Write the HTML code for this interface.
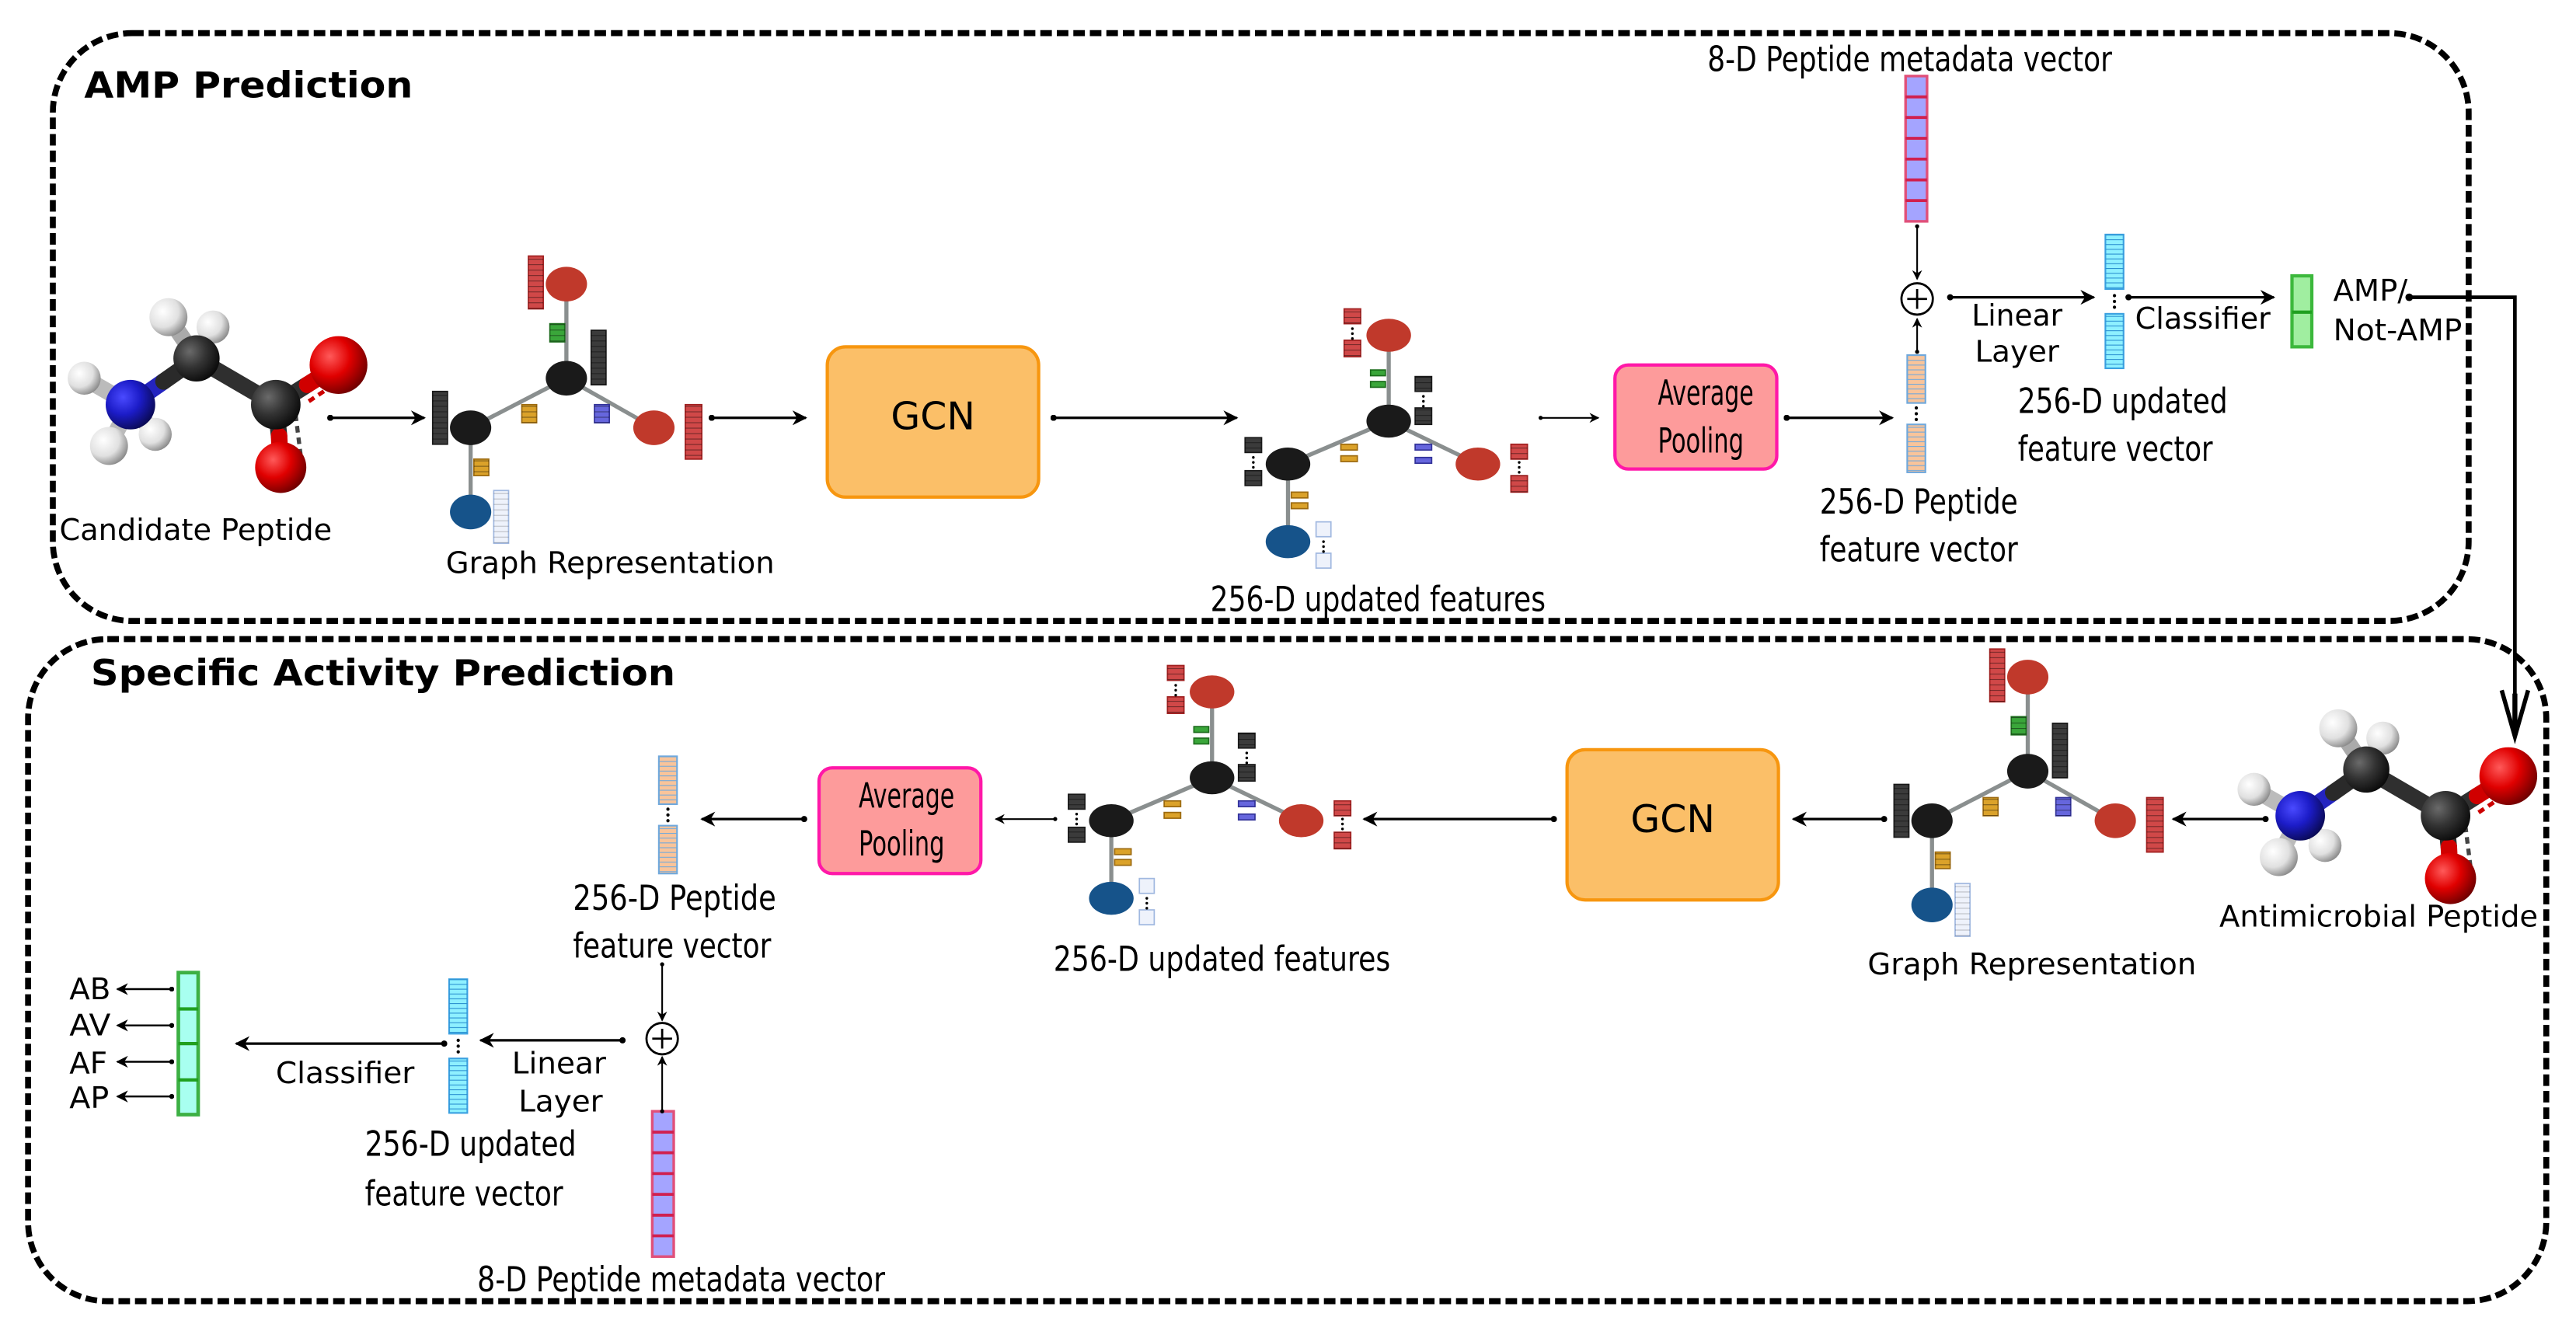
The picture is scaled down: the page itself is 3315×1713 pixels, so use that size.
<!DOCTYPE html>
<html><head><meta charset="utf-8"><style>
html,body{margin:0;padding:0;background:#fff;}
svg{display:block;}
text{font-family:"DejaVu Sans","Liberation Sans",sans-serif;fill:#000;}
</style></head><body>
<svg width="3315" height="1713" viewBox="0 0 1560 806" xmlns="http://www.w3.org/2000/svg">
<defs>
<pattern id="hl" patternUnits="userSpaceOnUse" width="20" height="3.3"><path d="M0 0.2H20" stroke="#000" stroke-opacity="0.45" stroke-width="0.6"/></pattern>
<pattern id="hlc" patternUnits="userSpaceOnUse" width="20" height="2.9"><path d="M0 0.2H20" stroke="#2a8fd0" stroke-width="0.6"/></pattern>
<pattern id="hlo" patternUnits="userSpaceOnUse" width="20" height="2.9"><path d="M0 0.2H20" stroke="#6fa8dc" stroke-width="0.6"/></pattern>
<marker id="ah" viewBox="0 0 10 10" refX="9" refY="5" markerWidth="6" markerHeight="6" orient="auto"><path d="M0 0L10 5L0 10L3 5Z" fill="#000"/></marker>
<marker id="dt" viewBox="0 0 10 10" refX="5" refY="5" markerWidth="2.5" markerHeight="2.5"><circle cx="5" cy="5" r="5" fill="#000"/></marker>
<radialGradient id="gR" cx="0.35" cy="0.35" r="0.7"><stop offset="0" stop-color="#ff5a5a"/><stop offset="0.5" stop-color="#e00000"/><stop offset="1" stop-color="#700000"/></radialGradient>
<radialGradient id="gB" cx="0.35" cy="0.35" r="0.7"><stop offset="0" stop-color="#4a4aff"/><stop offset="0.5" stop-color="#1c1cc8"/><stop offset="1" stop-color="#0a0a55"/></radialGradient>
<radialGradient id="gW" cx="0.35" cy="0.35" r="0.7"><stop offset="0" stop-color="#ffffff"/><stop offset="0.6" stop-color="#e0e0e0"/><stop offset="1" stop-color="#8a8a8a"/></radialGradient>
<radialGradient id="gC" cx="0.35" cy="0.35" r="0.7"><stop offset="0" stop-color="#6a6a6a"/><stop offset="0.5" stop-color="#333"/><stop offset="1" stop-color="#0a0a0a"/></radialGradient>

<g id="mol">
 <g stroke-linecap="round" stroke-width="10">
  <line x1="23" y1="-53" x2="40" y2="-28" stroke="#aaa"/>
  <line x1="50" y1="-47" x2="40" y2="-28" stroke="#aaa"/>
  <line x1="-28" y1="-16" x2="0" y2="0" stroke="#bbb"/>
  <line x1="-13" y1="25" x2="0" y2="0" stroke="#bbb"/>
  <line x1="15" y1="18" x2="0" y2="0" stroke="#999"/>
  <line x1="0" y1="0" x2="20" y2="-14" stroke="#2424c0"/>
  <line x1="20" y1="-14" x2="40" y2="-28" stroke="#2a2a2a"/>
  <line x1="40" y1="-28" x2="88" y2="0" stroke="#2f2f2f"/>
  <line x1="88" y1="0" x2="107" y2="-12" stroke="#2f2f2f"/>
  <line x1="107" y1="-12" x2="126" y2="-24" stroke="#d00000"/>
  <line x1="88" y1="0" x2="90" y2="19" stroke="#2f2f2f"/>
  <line x1="90" y1="19" x2="91" y2="38" stroke="#d00000"/>
 </g>
 <line x1="100" y1="6" x2="103" y2="30" stroke="#444" stroke-width="2.5" stroke-dasharray="4 3"/>
 <line x1="108" y1="-2" x2="120" y2="-10" stroke="#c00" stroke-width="2.5" stroke-dasharray="4 3"/>
 <circle cx="50" cy="-47" r="10" fill="url(#gW)"/>
 <circle cx="15" cy="18" r="10" fill="url(#gW)"/>
 <circle cx="23" cy="-53" r="11.5" fill="url(#gW)"/>
 <circle cx="-28" cy="-16" r="10" fill="url(#gW)"/>
 <circle cx="0" cy="0" r="15" fill="url(#gB)"/>
 <circle cx="-13" cy="25" r="11.5" fill="url(#gW)"/>
 <circle cx="40" cy="-28" r="14" fill="url(#gC)"/>
 <circle cx="88" cy="0" r="15" fill="url(#gC)"/>
 <circle cx="91" cy="38" r="15.5" fill="url(#gR)"/>
 <circle cx="126" cy="-24" r="17.5" fill="url(#gR)"/>
</g>

<g id="g1">
 <g stroke="#8a8f8f" stroke-width="2.5">
  <line x1="0" y1="0" x2="58" y2="-30"/><line x1="58" y1="-30" x2="58" y2="-87"/>
  <line x1="58" y1="-30" x2="111" y2="0"/><line x1="0" y1="0" x2="0" y2="51"/>
 </g>
 <ellipse cx="0" cy="0" rx="12.5" ry="10.5" fill="#1a1a1a"/>
 <ellipse cx="58" cy="-30" rx="12.5" ry="10.5" fill="#1a1a1a"/>
 <ellipse cx="58" cy="-87" rx="12.5" ry="10.5" fill="#c0392b"/>
 <ellipse cx="111" cy="0" rx="12.5" ry="10.5" fill="#c0392b"/>
 <ellipse cx="0" cy="51" rx="12.5" ry="10.5" fill="#16538a"/>
 <g stroke-width="0.8">
  <rect x="-23" y="-22" width="9" height="32" fill="#3b3b3b" stroke="#1a1a1a"/>
  <rect x="73" y="-59" width="9" height="33" fill="#3b3b3b" stroke="#1a1a1a"/>
  <rect x="35" y="-104" width="9" height="32" fill="#d04848" stroke="#a02020"/>
  <rect x="130" y="-14" width="10" height="33" fill="#d04848" stroke="#a02020"/>
  <rect x="14" y="38" width="9" height="32" fill="#eef2fb" stroke="#a0b8e0"/>
  <rect x="48" y="-63" width="9" height="11" fill="#3aa63a" stroke="#1d6d1d"/>
  <rect x="31" y="-14" width="9" height="11" fill="#dba22a" stroke="#9c6a10"/>
  <rect x="75" y="-14" width="9" height="11" fill="#6666dd" stroke="#333399"/>
  <rect x="2" y="19" width="9" height="10" fill="#dba22a" stroke="#9c6a10"/>
 </g>
 <g fill="url(#hl)">
  <rect x="-23" y="-22" width="9" height="32"/><rect x="73" y="-59" width="9" height="33"/>
  <rect x="35" y="-104" width="9" height="32"/><rect x="130" y="-14" width="10" height="33"/>
  <rect x="14" y="38" width="9" height="32" fill-opacity="0.5"/><rect x="48" y="-63" width="9" height="11"/>
  <rect x="31" y="-14" width="9" height="11"/><rect x="75" y="-14" width="9" height="11"/>
  <rect x="2" y="19" width="9" height="10"/>
 </g>
</g>

<g id="g2">
 <g stroke="#8a8f8f" stroke-width="2.5">
  <line x1="0" y1="0" x2="61" y2="-26"/><line x1="61" y1="-26" x2="61" y2="-78"/>
  <line x1="61" y1="-26" x2="115" y2="0"/><line x1="0" y1="0" x2="0" y2="47"/>
 </g>
 <ellipse cx="0" cy="0" rx="13.5" ry="10" fill="#1a1a1a"/>
 <ellipse cx="61" cy="-26" rx="13.5" ry="10" fill="#1a1a1a"/>
 <ellipse cx="61" cy="-78" rx="13.5" ry="10" fill="#c0392b"/>
 <ellipse cx="115" cy="0" rx="13.5" ry="10" fill="#c0392b"/>
 <ellipse cx="0" cy="47" rx="13.5" ry="10" fill="#16538a"/>
 <g stroke-width="0.8">
  <rect x="-26" y="-16" width="10" height="9" fill="#3b3b3b" stroke="#1a1a1a"/>
  <rect x="-26" y="4" width="10" height="9" fill="#3b3b3b" stroke="#1a1a1a"/>
  <rect x="77" y="-53" width="10" height="9" fill="#3b3b3b" stroke="#1a1a1a"/>
  <rect x="77" y="-34" width="10" height="10" fill="#3b3b3b" stroke="#1a1a1a"/>
  <rect x="34" y="-94" width="10" height="9" fill="#d04848" stroke="#a02020"/>
  <rect x="34" y="-75" width="10" height="10" fill="#d04848" stroke="#a02020"/>
  <rect x="135" y="-12" width="10" height="9" fill="#d04848" stroke="#a02020"/>
  <rect x="135" y="7" width="10" height="10" fill="#d04848" stroke="#a02020"/>
  <rect x="17" y="35" width="9" height="9" fill="#eef2fb" stroke="#a0b8e0"/>
  <rect x="17" y="54" width="9" height="9" fill="#eef2fb" stroke="#a0b8e0"/>
  <rect x="50" y="-57" width="9" height="3.5" fill="#3aa63a" stroke="#1d6d1d"/>
  <rect x="50" y="-50" width="9" height="3.5" fill="#3aa63a" stroke="#1d6d1d"/>
  <rect x="32" y="-12" width="10" height="3.5" fill="#dba22a" stroke="#9c6a10"/>
  <rect x="32" y="-5" width="10" height="3.5" fill="#dba22a" stroke="#9c6a10"/>
  <rect x="77" y="-12" width="10" height="3.5" fill="#6666dd" stroke="#333399"/>
  <rect x="77" y="-4" width="10" height="3.5" fill="#6666dd" stroke="#333399"/>
  <rect x="2" y="17" width="10" height="3.5" fill="#dba22a" stroke="#9c6a10"/>
  <rect x="2" y="23.5" width="10" height="3.5" fill="#dba22a" stroke="#9c6a10"/>
 </g>
 <g fill="url(#hl)">
  <rect x="-26" y="-16" width="10" height="9"/><rect x="-26" y="4" width="10" height="9"/>
  <rect x="77" y="-53" width="10" height="9"/><rect x="77" y="-34" width="10" height="10"/>
  <rect x="34" y="-94" width="10" height="9"/><rect x="34" y="-75" width="10" height="10"/>
  <rect x="135" y="-12" width="10" height="9"/><rect x="135" y="7" width="10" height="10"/>
 </g>
 <g fill="#000">
  <circle cx="-21" cy="-4" r="0.8"/><circle cx="-21" cy="-1" r="0.8"/><circle cx="-21" cy="2" r="0.8"/>
  <circle cx="82" cy="-41" r="0.8"/><circle cx="82" cy="-38" r="0.8"/><circle cx="82" cy="-35" r="0.8"/>
  <circle cx="39" cy="-82" r="0.8"/><circle cx="39" cy="-79" r="0.8"/><circle cx="39" cy="-76" r="0.8"/>
  <circle cx="140" cy="-1" r="0.8"/><circle cx="140" cy="2" r="0.8"/><circle cx="140" cy="5" r="0.8"/>
  <circle cx="21.5" cy="47" r="0.8"/><circle cx="21.5" cy="50" r="0.8"/><circle cx="21.5" cy="53" r="0.8"/>
 </g>
</g>

<g id="fv">
 <rect x="0" y="0" width="11" height="29" fill="#f9c49a" stroke="#6fa8dc" stroke-width="1"/>
 <rect x="0" y="0" width="11" height="29" fill="url(#hlo)"/>
 <rect x="0" y="42" width="11" height="29" fill="#f9c49a" stroke="#6fa8dc" stroke-width="1"/>
 <rect x="0" y="42" width="11" height="29" fill="url(#hlo)"/>
 <circle cx="5.5" cy="32" r="1" fill="#000"/><circle cx="5.5" cy="35.5" r="1" fill="#000"/><circle cx="5.5" cy="39" r="1" fill="#000"/>
</g>
<g id="cv">
 <rect x="0" y="0" width="11" height="33" fill="#8ef0ff" stroke="#3aa0e0" stroke-width="1"/>
 <rect x="0" y="0" width="11" height="33" fill="url(#hlc)"/>
 <rect x="0" y="48" width="11" height="33" fill="#8ef0ff" stroke="#3aa0e0" stroke-width="1"/>
 <rect x="0" y="48" width="11" height="33" fill="url(#hlc)"/>
 <circle cx="5.5" cy="37" r="1" fill="#000"/><circle cx="5.5" cy="40.5" r="1" fill="#000"/><circle cx="5.5" cy="44" r="1" fill="#000"/>
</g>
<g id="mv">
 <rect x="0" y="0" width="13" height="88" fill="#a4a4ff" stroke="#e0507a" stroke-width="1.6"/>
 <g stroke="#d0204f" stroke-width="1.8">
  <line x1="0" y1="12.6" x2="13" y2="12.6"/><line x1="0" y1="25.1" x2="13" y2="25.1"/>
  <line x1="0" y1="37.7" x2="13" y2="37.7"/><line x1="0" y1="50.3" x2="13" y2="50.3"/>
  <line x1="0" y1="62.9" x2="13" y2="62.9"/><line x1="0" y1="75.4" x2="13" y2="75.4"/>
 </g>
</g>
</defs>

<!-- dashed boxes -->
<rect x="32" y="20" width="1463" height="356" rx="48" ry="48" fill="none" stroke="#000" stroke-width="3.6" stroke-dasharray="7 3"/>
<rect x="17" y="387" width="1525" height="401" rx="48" ry="48" fill="none" stroke="#000" stroke-width="3.6" stroke-dasharray="7 3"/>

<text x="51" y="59" font-weight="bold" font-size="22" textLength="199" lengthAdjust="spacingAndGlyphs">AMP Prediction</text>
<text x="55" y="415" font-weight="bold" font-size="22" textLength="354" lengthAdjust="spacingAndGlyphs">Specific Activity Prediction</text>

<!-- TOP ROW -->
<use href="#mol" transform="translate(79,245)"/>
<text x="36" y="327" font-size="18" textLength="165" lengthAdjust="spacingAndGlyphs">Candidate Peptide</text>
<line x1="200" y1="253" x2="257" y2="253" stroke="#000" stroke-width="1.5" marker-start="url(#dt)" marker-end="url(#ah)"/>
<use href="#g1" transform="translate(285,259)"/>
<text x="270" y="347" font-size="18" textLength="199" lengthAdjust="spacingAndGlyphs">Graph Representation</text>
<line x1="431" y1="253" x2="488" y2="253" stroke="#000" stroke-width="1.5" marker-start="url(#dt)" marker-end="url(#ah)"/>
<rect x="501" y="210" width="128" height="91" rx="11" fill="#fbbf68" stroke="#f7960f" stroke-width="2"/>
<text x="565" y="260" font-size="23" text-anchor="middle">GCN</text>
<line x1="638" y1="253" x2="749" y2="253" stroke="#000" stroke-width="1.5" marker-start="url(#dt)" marker-end="url(#ah)"/>
<use href="#g2" transform="translate(780,281)"/>
<text x="733" y="370" font-size="21" textLength="203" lengthAdjust="spacingAndGlyphs">256-D updated features</text>
<line x1="933" y1="253" x2="968" y2="253" stroke="#000" stroke-width="1" marker-start="url(#dt)" marker-end="url(#ah)"/>
<rect x="978" y="221" width="98" height="63" rx="8" fill="#fd9b9b" stroke="#ff18a8" stroke-width="2"/>
<text x="1004" y="245" font-size="21" textLength="58" lengthAdjust="spacingAndGlyphs">Average</text>
<text x="1004" y="274" font-size="21" textLength="52" lengthAdjust="spacingAndGlyphs">Pooling</text>
<line x1="1082" y1="253" x2="1146" y2="253" stroke="#000" stroke-width="1.5" marker-start="url(#dt)" marker-end="url(#ah)"/>
<use href="#fv" transform="translate(1155,215)"/>
<text x="1102" y="311" font-size="21" textLength="120" lengthAdjust="spacingAndGlyphs">256-D Peptide</text>
<text x="1102" y="340" font-size="21" textLength="120" lengthAdjust="spacingAndGlyphs">feature vector</text>
<line x1="1161" y1="213" x2="1161" y2="193" stroke="#000" stroke-width="1" marker-start="url(#dt)" marker-end="url(#ah)"/>
<circle cx="1161" cy="181" r="9.5" fill="#fff" stroke="#000" stroke-width="1.3"/>
<path d="M1155 181H1167M1161 175V187" stroke="#000" stroke-width="1.3"/>
<use href="#mv" transform="translate(1154,46)"/>
<text x="1034" y="43" font-size="21" textLength="245" lengthAdjust="spacingAndGlyphs">8-D Peptide metadata vector</text>
<line x1="1161" y1="137" x2="1161" y2="169" stroke="#000" stroke-width="1" marker-start="url(#dt)" marker-end="url(#ah)"/>
<line x1="1181" y1="180" x2="1268" y2="180" stroke="#000" stroke-width="1.5" marker-start="url(#dt)" marker-end="url(#ah)"/>
<text x="1194" y="197" font-size="18" textLength="55" lengthAdjust="spacingAndGlyphs">Linear</text>
<text x="1196" y="219" font-size="18" textLength="51" lengthAdjust="spacingAndGlyphs">Layer</text>
<use href="#cv" transform="translate(1275,142)"/>
<line x1="1289" y1="180" x2="1377" y2="180" stroke="#000" stroke-width="1.5" marker-start="url(#dt)" marker-end="url(#ah)"/>
<text x="1293" y="199" font-size="18" textLength="82" lengthAdjust="spacingAndGlyphs">Classifier</text>
<rect x="1388" y="167" width="12" height="43" fill="#a0eea0" stroke="#3cb83c" stroke-width="2"/>
<line x1="1388" y1="189" x2="1400" y2="189" stroke="#20a020" stroke-width="2"/>
<text x="1413" y="182" font-size="18" textLength="45" lengthAdjust="spacingAndGlyphs">AMP/</text>
<text x="1413" y="206" font-size="18" textLength="78" lengthAdjust="spacingAndGlyphs">Not-AMP</text>
<circle cx="1459" cy="180" r="2.3" fill="#000"/>
<polyline points="1459,180 1523,180 1523,440" fill="none" stroke="#000" stroke-width="2.2"/>
<path d="M1515 418L1523 446L1531 418" fill="none" stroke="#000" stroke-width="2.6"/>
<line x1="1523" y1="420" x2="1523" y2="445" stroke="#000" stroke-width="3"/>
<text x="1222" y="250" font-size="21" textLength="127" lengthAdjust="spacingAndGlyphs">256-D updated</text>
<text x="1222" y="279" font-size="21" textLength="118" lengthAdjust="spacingAndGlyphs">feature vector</text>

<!-- BOTTOM ROW -->
<use href="#mol" transform="translate(1393,494)"/>
<text x="1344" y="561" font-size="18" textLength="193" lengthAdjust="spacingAndGlyphs">Antimicrobial Peptide</text>
<line x1="1372" y1="496" x2="1316" y2="496" stroke="#000" stroke-width="1.5" marker-start="url(#dt)" marker-end="url(#ah)"/>
<use href="#g1" transform="translate(1170,497)"/>
<text x="1131" y="590" font-size="18" textLength="199" lengthAdjust="spacingAndGlyphs">Graph Representation</text>
<line x1="1141" y1="496" x2="1086" y2="496" stroke="#000" stroke-width="1.5" marker-start="url(#dt)" marker-end="url(#ah)"/>
<rect x="949" y="454" width="128" height="91" rx="11" fill="#fbbf68" stroke="#f7960f" stroke-width="2"/>
<text x="1013" y="504" font-size="23" text-anchor="middle">GCN</text>
<line x1="941" y1="496" x2="826" y2="496" stroke="#000" stroke-width="1.5" marker-start="url(#dt)" marker-end="url(#ah)"/>
<use href="#g2" transform="translate(673,497)"/>
<text x="638" y="588" font-size="21" textLength="204" lengthAdjust="spacingAndGlyphs">256-D updated features</text>
<line x1="639" y1="496" x2="603" y2="496" stroke="#000" stroke-width="1" marker-start="url(#dt)" marker-end="url(#ah)"/>
<rect x="496" y="465" width="98" height="64" rx="8" fill="#fd9b9b" stroke="#ff18a8" stroke-width="2"/>
<text x="520" y="489" font-size="21" textLength="58" lengthAdjust="spacingAndGlyphs">Average</text>
<text x="520" y="518" font-size="21" textLength="52" lengthAdjust="spacingAndGlyphs">Pooling</text>
<line x1="487" y1="496" x2="425" y2="496" stroke="#000" stroke-width="1.5" marker-start="url(#dt)" marker-end="url(#ah)"/>
<use href="#fv" transform="translate(399,458)"/>
<text x="347" y="551" font-size="21" textLength="123" lengthAdjust="spacingAndGlyphs">256-D Peptide</text>
<text x="347" y="580" font-size="21" textLength="120" lengthAdjust="spacingAndGlyphs">feature vector</text>
<line x1="401" y1="584" x2="401" y2="618" stroke="#000" stroke-width="1" marker-start="url(#dt)" marker-end="url(#ah)"/>
<circle cx="401" cy="629" r="9.5" fill="#fff" stroke="#000" stroke-width="1.3"/>
<path d="M395 629H407M401 623V635" stroke="#000" stroke-width="1.3"/>
<use href="#mv" transform="translate(395,673)"/>
<line x1="401" y1="673" x2="401" y2="640" stroke="#000" stroke-width="1" marker-start="url(#dt)" marker-end="url(#ah)"/>
<text x="289" y="782" font-size="21" textLength="247" lengthAdjust="spacingAndGlyphs">8-D Peptide metadata vector</text>
<line x1="377" y1="630" x2="291" y2="630" stroke="#000" stroke-width="1.5" marker-start="url(#dt)" marker-end="url(#ah)"/>
<text x="310" y="650" font-size="18" textLength="57" lengthAdjust="spacingAndGlyphs">Linear</text>
<text x="314" y="673" font-size="18" textLength="51" lengthAdjust="spacingAndGlyphs">Layer</text>
<use href="#cv" transform="translate(272,593)"/>
<line x1="269" y1="632" x2="143" y2="632" stroke="#000" stroke-width="1.5" marker-start="url(#dt)" marker-end="url(#ah)"/>
<text x="167" y="656" font-size="18" textLength="84" lengthAdjust="spacingAndGlyphs">Classifier</text>
<text x="221" y="700" font-size="21" textLength="128" lengthAdjust="spacingAndGlyphs">256-D updated</text>
<text x="221" y="730" font-size="21" textLength="120" lengthAdjust="spacingAndGlyphs">feature vector</text>
<rect x="108" y="589" width="12" height="86" fill="#a8fff0" stroke="#3cb043" stroke-width="2.2"/>
<g stroke="#20a020" stroke-width="2"><line x1="108" y1="611" x2="120" y2="611"/><line x1="108" y1="632" x2="120" y2="632"/><line x1="108" y1="654" x2="120" y2="654"/></g>
<g stroke="#000" stroke-width="1.2" marker-start="url(#dt)" marker-end="url(#ah)">
 <line x1="104" y1="599" x2="71" y2="599"/><line x1="104" y1="621" x2="71" y2="621"/>
 <line x1="104" y1="643" x2="71" y2="643"/><line x1="104" y1="664" x2="71" y2="664"/>
</g>
<text x="42" y="605" font-size="18" textLength="25" lengthAdjust="spacingAndGlyphs">AB</text>
<text x="42" y="627" font-size="18" textLength="25" lengthAdjust="spacingAndGlyphs">AV</text>
<text x="42" y="650" font-size="18" textLength="23" lengthAdjust="spacingAndGlyphs">AF</text>
<text x="42" y="671" font-size="18" textLength="24" lengthAdjust="spacingAndGlyphs">AP</text>
</svg>
</body></html>
